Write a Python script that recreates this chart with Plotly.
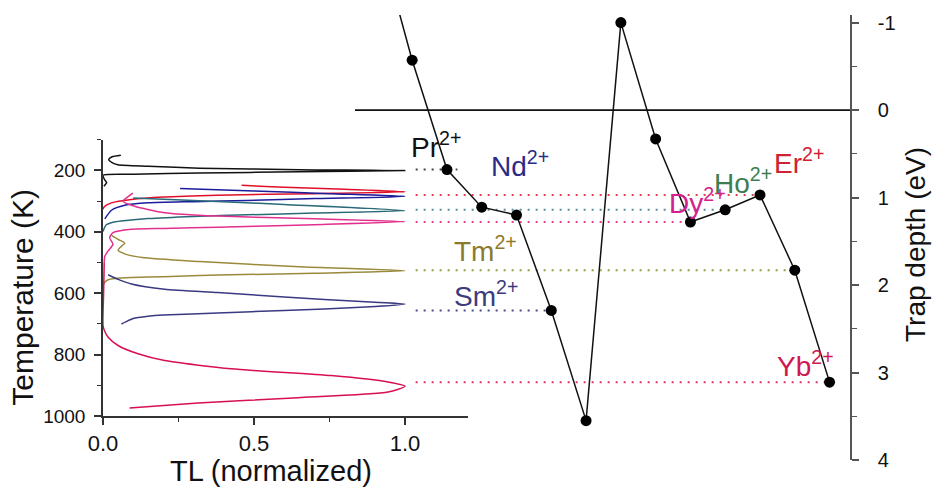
import plotly.graph_objects as go

# ---------------- data ----------------
ions = ["La", "Ce", "Pr", "Nd", "Pm", "Sm", "Eu", "Gd", "Tb", "Dy", "Ho", "Er", "Tm", "Yb"]
trap_depth_eV = [-2.03, -0.57, 0.68, 1.11, 1.20, 2.29, 3.55, -1.00, 0.33, 1.28, 1.14, 0.97, 1.83, 3.11]

# TL glow curves: normalized TL (x) vs temperature in K (y)
pr_tl = [0.059, 0.030, 0.019, 0.030, 0.049, 0.15, 0.32, 0.65, 1.00, 0.65, 0.32, 0.10, 0.00, 0.005, 0.012, 0.003]
pr_T = [151, 156, 165, 175, 182, 187, 193, 198, 201, 205, 209, 213, 216, 230, 240, 252]

er_tl = [0.459, 0.60, 0.80, 1.00, 0.70, 0.38, 0.20, 0.094, 0.028, 0.005, 0.0]
er_T = [249, 255, 262, 270, 276, 281, 287, 295, 306, 318, 327]

nd_tl = [0.255, 0.50, 0.75, 1.00, 0.70, 0.476, 0.30, 0.15, 0.072, 0.028, 0.006]
nd_T = [259, 267, 276, 285, 292, 298, 302, 306, 314, 330, 358]

ho_tl = [0.10, 0.30, 0.60, 1.00, 0.70, 0.476, 0.30, 0.149, 0.06, 0.033, 0.01, 0.0]
ho_T = [290, 298, 311, 331, 339, 345, 350, 357, 365, 369, 378, 399]

dy_tl = [0.099, 0.080, 0.066, 0.105, 0.204, 0.38, 0.70, 1.00, 0.70, 0.38, 0.20, 0.094, 0.033, 0.022, 0.033, 0.017, 0.006, 0.004]
dy_T = [274, 288, 300, 317, 338, 349, 358, 367, 377, 385, 389, 392, 403, 419, 441, 462, 480, 500]

tm_tl = [0.028, 0.050, 0.072, 0.060, 0.050, 0.072, 0.13, 0.32, 0.65, 1.00, 0.70, 0.38, 0.20, 0.094, 0.04, 0.017, 0.005, 0.0]
tm_T = [412, 425, 437, 448, 460, 472, 484, 497, 514, 527, 535, 541, 546, 549, 552, 556, 565, 575]

sm_tl = [0.017, 0.05, 0.094, 0.204, 0.38, 0.60, 0.87, 1.00, 0.87, 0.60, 0.38, 0.20, 0.149, 0.10, 0.083, 0.061]
sm_T = [540, 555, 570, 587, 598, 612, 628, 635, 645, 656, 664, 671, 675, 682, 689, 700]

yb_tl = [0.004, 0.002, 0.0, 0.005, 0.017, 0.05, 0.116, 0.204, 0.425, 0.756, 0.944, 1.00, 0.944, 0.646, 0.315, 0.088]
yb_T = [500, 600, 705, 722, 743, 770, 797, 819, 846, 868, 889, 903, 921, 940, 957, 973]

temp_ticks = [200, 400, 600, 800, 1000]
tl_ticks = [0.0, 0.5, 1.0]
depth_ticks = [-1, 0, 1, 2, 3, 4]

labelled = ["Pr", "Nd", "Tm", "Sm", "Dy", "Ho", "Er", "Yb"]
dotted_ions = ["Pr", "Er", "Ho", "Dy", "Tm", "Sm", "Yb"]

# ---------------- styles ----------------
FONT = "Liberation Sans, Arial, sans-serif"
W, H = 932, 488
ML, MR, MT, MB = 103, 82, 13, 28
PW, PH = W - ML - MR, H - MT - MB


def px(x):
    return (x - ML) / PW


def py(y):
    return (H - MB - y) / PH


curve_color = {"Pr": "#111111", "Er": "#e0102a", "Nd": "#1c1c9c", "Ho": "#2a6a78",
               "Dy": "#e2308e", "Tm": "#9a8a3c", "Sm": "#3a3a82", "Yb": "#d81050"}
dot_color = {"Pr": "#444444", "Er": "#e04050", "Ho": "#5a8aa0", "Dy": "#e040a0",
             "Tm": "#9a9a40", "Sm": "#4a4a8a", "Yb": "#e03060"}
label_color = {"Pr": "#111111", "Nd": "#2b2b88", "Tm": "#8c7a2c", "Sm": "#3c3c7c",
               "Dy": "#d4208c", "Ho": "#3d7d50", "Er": "#cc2233", "Yb": "#cf1850"}
# label left / vertical-middle positions (pixels)
label_pos = {"Pr": (409, 144), "Nd": (489, 163), "Tm": (452, 248), "Sm": (452, 293),
             "Dy": (667, 200), "Ho": (712, 180), "Er": (772, 160), "Yb": (775, 364)}

fig = go.Figure()

curves = [("Pr", pr_tl, pr_T), ("Er", er_tl, er_T), ("Nd", nd_tl, nd_T), ("Ho", ho_tl, ho_T),
          ("Dy", dy_tl, dy_T), ("Tm", tm_tl, tm_T), ("Sm", sm_tl, sm_T), ("Yb", yb_tl, yb_T)]
for ion, xs, ys in curves:
    fig.add_trace(go.Scatter(x=xs, y=ys, mode="lines", xaxis="x", yaxis="y",
                             line=dict(color=curve_color[ion], width=1.5, shape="spline", smoothing=0.6),
                             showlegend=False, hoverinfo="skip"))

idx = list(range(len(ions)))
DOT_START = 1.1
for ion in dotted_ions:
    i = ions.index(ion)
    end = i + (0.3 if ion == "Pr" else 0)
    fig.add_trace(go.Scatter(x=[DOT_START, end], y=[trap_depth_eV[i]] * 2, mode="lines",
                             xaxis="x2", yaxis="y2",
                             line=dict(color=dot_color[ion], width=2, dash="2px,6px"),
                             showlegend=False, hoverinfo="skip"))

fig.add_trace(go.Scatter(x=idx, y=trap_depth_eV, mode="lines+markers", xaxis="x2", yaxis="y2",
                         line=dict(color="#111111", width=1.5),
                         marker=dict(color="#000000", size=11),
                         showlegend=False, text=ions))

fig.add_shape(type="line", xref="x2", yref="y2", x0=-0.644, x1=13.588, y0=0, y1=0,
              line=dict(color="#111111", width=1.6), layer="above")

axis_common = dict(showgrid=False, zeroline=False, showline=True, linecolor="#333333", linewidth=1.5,
                   ticks="outside", ticklen=7, tickwidth=1.5, tickcolor="#333333")

fig.update_layout(
    width=W, height=H, margin=dict(l=ML, r=MR, t=MT, b=MB),
    paper_bgcolor="white", plot_bgcolor="rgba(0,0,0,0)",
    font=dict(family=FONT, color="#111111"),
    xaxis=dict(domain=[0, px(468)], range=[0, (468 - 103) / 302], anchor="y",
               tickvals=tl_ticks, ticktext=[f"{v:.1f}" for v in tl_ticks],
               tickfont=dict(size=22),
               minor=dict(dtick=0.25, tick0=0, ticks="outside", ticklen=4, tickwidth=1.2, tickcolor="#333333"),
               **axis_common),
    yaxis=dict(domain=[py(416), py(138.1)], range=[1000, 100], anchor="x",
               tickvals=temp_ticks, tickfont=dict(size=19), ticklabelstandoff=5,
               minor=dict(dtick=100, tick0=0, ticks="outside", ticklen=4, tickwidth=1.2, tickcolor="#333333"),
               **axis_common),
    xaxis2=dict(domain=[0, 1], range=[-7.889, 13.588], anchor="y2", visible=False),
    yaxis2=dict(domain=[0, 1], range=[4, -1.087], anchor="x2", side="right",
                tickvals=depth_ticks, ticktext=[str(v) for v in depth_ticks],
                tickfont=dict(size=20), ticklabelstandoff=15,
                minor=dict(dtick=0.5, tick0=0, ticks="outside", ticklen=5, tickwidth=1.2, tickcolor="#555555"),
                **{**axis_common, "linecolor": "#555555", "tickcolor": "#555555"}),
)

annotations = []
for ion in labelled:
    x, y = label_pos[ion]
    annotations.append(dict(x=px(x), y=py(y), xref="paper", yref="paper", xanchor="left", yanchor="middle",
                            text=f"{ion}<sup>2+</sup>", showarrow=False,
                            font=dict(size=28, color=label_color[ion], family=FONT)))

annotations += [
    dict(x=px(23), y=py(297), xref="paper", yref="paper", text="Temperature (K)", textangle=-90,
         showarrow=False, xanchor="center", yanchor="middle", font=dict(size=30, family=FONT)),
    dict(x=px(271), y=py(471), xref="paper", yref="paper", text="TL (normalized)",
         showarrow=False, xanchor="center", yanchor="middle", font=dict(size=29, family=FONT)),
    dict(x=px(916), y=py(244), xref="paper", yref="paper", text="Trap depth (eV)", textangle=-90,
         showarrow=False, xanchor="center", yanchor="middle", font=dict(size=28, family=FONT)),
]
fig.update_layout(annotations=annotations)

fig.write_html("out.html")
